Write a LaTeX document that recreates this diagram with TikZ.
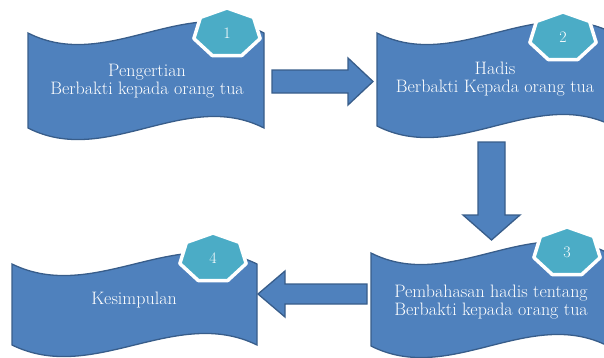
\documentclass[tikz,border=0pt]{standalone}
\usetikzlibrary{calc}
\definecolor{waveblue}{HTML}{4F81BD}
\definecolor{waveedge}{HTML}{385D8A}
\definecolor{badgeteal}{HTML}{4BACC6}
\begin{document}
\begin{tikzpicture}[x=1pt, y=-1pt,
    wave/.style={fill=waveblue, draw=waveedge, line width=1.3pt},
    blockarrow/.style={fill=waveblue, draw=waveedge, line width=1.3pt, line join=miter},
    badge/.style={fill=badgeteal, draw=white, line width=3.5pt, line join=round},
    boxtext/.style={text=white, align=center, font=\fontsize{18}{18.5}\selectfont},
    badgetext/.style={text=white, font=\fontsize{16}{18}\selectfont}]
 \useasboundingbox (0,0) rectangle (604,357);
 \clip (0,0) rectangle (604,357);
 % the four waves
 \foreach \l/\t/\w/\h in {28/33/236/95, 377/33/236/93, 371/253/237/93, 12/264/245/81}
 {
     \draw[wave] (\l,\t) .. controls ({\l+\w/3},{\t+40}) and ({\l+2*\w/3},{\t-40}) .. ({\l+\w},\t)
        -- ({\l+\w},{\t+\h}) .. controls ({\l+2*\w/3},{\t+\h-40}) and ({\l+\w/3},{\t+\h+40}) .. (\l,{\t+\h}) -- cycle;
 }
 \node[boxtext] (w1) at (147,81) {Pengertian\\Berbakti kepada orang tua};
 \node[boxtext] (w2) at (495,79) {Hadis\\Berbakti Kepada orang tua};
 \node[boxtext] (w3) at (491,302) {Pembahasan hadis tentang\\Berbakti kepada orang tua};
 \node[boxtext] (w4) at (134,300) {Kesimpulan};
 % block arrows
 \coordinate (a1) at (272,81.5);
 \coordinate (a2) at (491.5,142);
 \coordinate (a3) at (367,294);
 \draw[blockarrow] (a1) ++(0,-11.5) -- ++(76,0) -- ++(0,-12) -- ++(25,23.5) -- ++(-25,23.5) -- ++(0,-12) -- ++(-76,0) -- cycle;
 \draw[blockarrow] (a2) ++(-13.5,0) -- ++(0,73) -- ++(-15,0) -- ++(28.5,25) -- ++(28.5,-25) -- ++(-15,0) -- ++(0,-73) -- cycle;
 \draw[blockarrow] (a3) ++(0,-10) -- ++(-82,0) -- ++(0,-13) -- ++(-27,23) -- ++(27,23) -- ++(0,-13) -- ++(82,0) -- cycle;
 % number badges
 \foreach \cx/\cy/\n in {227/33/1, 563/37/2, 567/252/3, 213/258/4}
 {
     \draw[badge] plot[domain=90:450, samples=8] ({\cx+34*cos(\x)}, {\cy-25*sin(\x)}) -- cycle;
     \node[badgetext] (b\n) at (\cx,\cy) {\n};
 }
\end{tikzpicture}
\end{document}
